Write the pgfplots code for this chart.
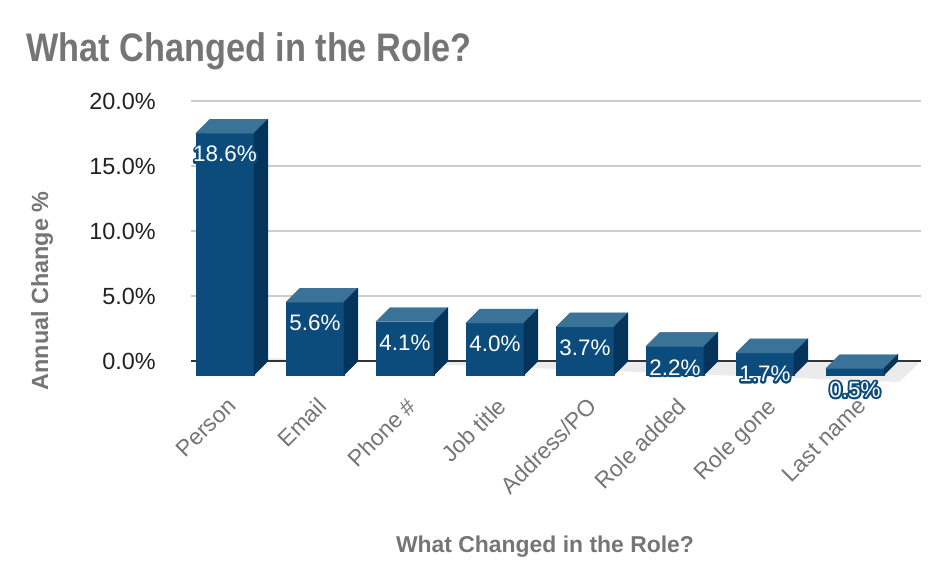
\documentclass[border=0pt]{standalone}
\usepackage{pgfplots}
\pgfplotsset{compat=1.18}
\usepackage{fontspec}
\setmainfont{Liberation Sans}
\newfontfamily\titlefont[FakeStretch=0.86]{Liberation Sans}

\definecolor{barfront}{HTML}{0B4C7D}
\definecolor{bartop}{HTML}{3A7298}
\definecolor{barside}{HTML}{05345A}
\definecolor{txtgrey}{HTML}{757575}
\definecolor{gridgrey}{HTML}{CCCCCC}
\definecolor{floorgrey}{HTML}{EBEBEB}

% white label with a dark blue outline behind it (stroked copy, then filled copy)
\newcommand\barlabel[1]{\rlap{\color{barfront}\special{pdf:literal direct 1 Tr 4 w 1 j}#1\special{pdf:literal direct 0 Tr}}#1}

% 3D box drawn at each data point: the point is the top centre of the back face
\pgfdeclareplotmark{box3d}{%
  \pgfmathsetmacro\h{\barval*13}%
  \fill[barfront] (-43bp,-\h bp-14bp) rectangle (15bp,-14bp);
  \fill[bartop] (-43bp,-14bp) -- (15bp,-14bp) -- (29bp,0bp) -- (-29bp,0bp) -- cycle;
  \fill[barside] (15bp,-14bp) -- (29bp,0bp) -- (29bp,-\h bp) -- (15bp,-\h bp-14bp) -- cycle;
}

\begin{document}
\begin{tikzpicture}
\useasboundingbox (0,0) rectangle (950bp,-586bp);
\node[anchor=base west, text=txtgrey, inner sep=0pt,
  font=\titlefont\bfseries\fontsize{40}{44}\selectfont] at (26bp,-61bp) {What Changed in the Role?};
\node[rotate=90, text=txtgrey, inner sep=0pt,
  font=\bfseries\fontsize{23.5}{26}\selectfont] at (42bp,-291bp) {Annual Change \%};
\node[anchor=base, text=txtgrey, inner sep=0pt,
  font=\bfseries\fontsize{23}{26}\selectfont] at (545bp,-552bp) {What Changed in the Role?};
\begin{axis}[
  at={(191bp,-387bp)}, anchor=south west,
  x=90bp, y=13bp,
  xmin=-0.533, xmax=7.578, ymin=-2, ymax=20,
  clip=false,
  axis line style={draw=none},
  major tick length=0pt,
  ytick={0,5,10,15,20},
  yticklabels={0.0\%,5.0\%,10.0\%,15.0\%,20.0\%},
  ymajorgrids, grid style={gridgrey, line width=1.2bp},
  xtick={0,...,7},
  xticklabels={Person,Email,Phone \#,Job title,Address/PO,Role added,Role gone,Last name},
  yticklabel style={font=\fontsize{23.5}{25}\selectfont, text=black!87, inner sep=0pt, xshift=-35bp},
  xticklabel style={xshift=-13bp, yshift=-9bp, font=\fontsize{23}{25}\selectfont, text=txtgrey,
    rotate=45, anchor=north east, inner sep=0pt},
]
% floor and zero line
\fill[floorgrey] (axis cs:-0.533,0) -- (axis cs:7.578,0) -- ++(-22bp,-21bp) -- ++(-730bp,0) -- cycle;
\draw[black!80, line width=1.5bp] (axis cs:-0.533,0) -- (axis cs:7.578,0);

\addplot[only marks, mark=box3d,
  visualization depends on={rawy \as \barval},
  nodes near coords={\barlabel{\pgfmathprintnumber[fixed,fixed zerofill,precision=1,assume math mode=true]{\pgfplotspointmeta}\%}},
  nodes near coords style={anchor=center, text=white, font=\fontsize{22.5}{24}\selectfont,
    xshift=-14bp, yshift=-35bp}]
  coordinates {(0,18.6) (1,5.6) (2,4.1) (3,4.0) (4,3.7) (5,2.2) (6,1.7) (7,0.5)};
\end{axis}
\end{tikzpicture}
\end{document}
